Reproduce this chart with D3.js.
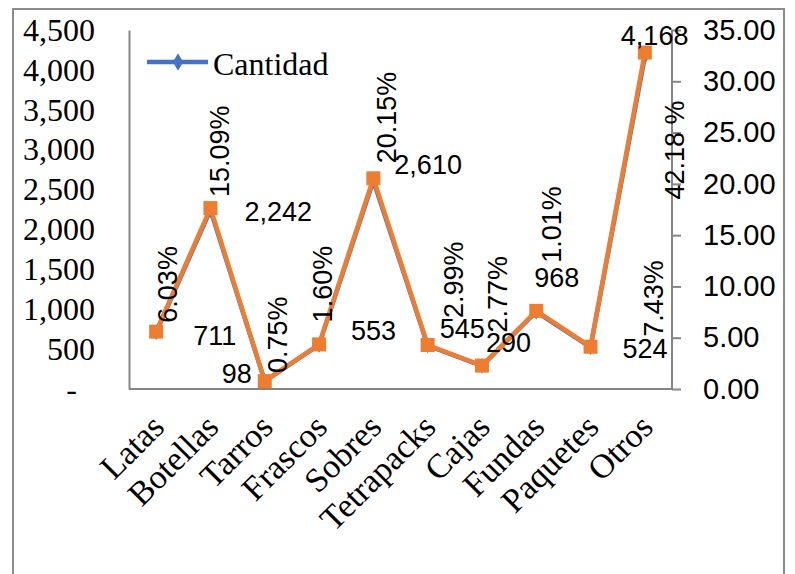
<!DOCTYPE html>
<html>
<head>
	<meta charset="utf-8">
	<title>Cantidad por tipo de envase</title>
	<style type="text/css">
		body {
			margin: 0;
			background: #fff;
		}
		.serif { font-family: "Liberation Serif", "Times New Roman", serif; }
		.sans { font-family: "Liberation Sans", Arial, sans-serif; }
		.axis path, .axis line {
			stroke: #868686;
			stroke-width: 2;
		}
		.axis text { fill: #000; }
	</style>
	<script src="https://d3js.org/d3.v7.min.js"></script>
</head>
<body>
<script type="text/javascript">
	// data
	var categories = ["Latas", "Botellas", "Tarros", "Frascos", "Sobres", "Tetrapacks", "Cajas", "Fundas", "Paquetes", "Otros"];
	var cantidad = [711, 2242, 98, 553, 2610, 545, 290, 968, 524, 4168];
	var porcentaje = [5.59, 17.64, 0.77, 4.35, 20.54, 4.29, 2.28, 7.62, 4.12, 32.80];
	var cantidadLabels = ["711", "2,242", "98", "553", "2,610", "545", "290", "968", "524", "4,168"];
	var pctLabels = ["6.03%", "15.09%", "0.75%", "1.60%", "20.15%", "2.99%", "2.77%", "1.01%", "7.43%", "42.18 %"];
	var leftTicks = [0, 500, 1000, 1500, 2000, 2500, 3000, 3500, 4000, 4500];
	var rightTicks = [0, 5, 10, 15, 20, 25, 30, 35];

	// where the hand-placed labels sit, relative to their point
	var cantOffsets = [[37, 13], [34, 11], [-43, 2], [32, -5], [21, -7], [12, -8], [4, -14], [-2, -25], [32, 11], [-24, -11]];
	var pctOffsets = [[21, -9], [19, -11], [22, -8], [13, -22], [23, -15], [35, -27], [25, -33], [25, -48], [72, -10], [39, 147]];

	var svg = d3.select("body").append("svg")
		.attr("width", 795)
		.attr("height", 574);

	var plot = {left: 129, right: 672, top: 30, bottom: 389};

	svg.append("rect")
		.attr("x", 13).attr("y", 9)
		.attr("width", 771).attr("height", 620)
		.attr("fill", "none")
		.attr("stroke", "#8c8c8c")
		.attr("stroke-width", 2);

	var x = d3.scaleBand().domain(categories).range([plot.left, plot.right]);
	var yL = d3.scaleLinear().domain([0, 4500]).range([plot.bottom, plot.top]);
	var yR = d3.scaleLinear().domain([0, 35]).range([plot.bottom, plot.top]);
	var cx = function(i) { return x(categories[i]) + x.bandwidth() / 2; };

	// left axis
	var gL = svg.append("g")
		.attr("class", "axis serif")
		.attr("transform", "translate(" + plot.left + ",0)")
		.call(d3.axisLeft(yL).tickValues(leftTicks).tickSize(0).tickPadding(34)
			.tickFormat(function(d) { return d === 0 ? "-" : d3.format(",")(d); }));
	gL.selectAll("text").style("font-size", "32px").attr("font-family", null);
	gL.selectAll(".tick").filter(function(d) { return d === 0; }).select("text").attr("x", -52);

	// right axis
	var gR = svg.append("g")
		.attr("class", "axis sans")
		.attr("transform", "translate(" + plot.right + ",0)")
		.call(d3.axisRight(yR).tickValues(rightTicks).tickSize(9).tickPadding(22).tickFormat(d3.format(".2f")));
	gR.selectAll("text").style("font-size", "29px").attr("font-family", null);
	gR.select(".domain").attr("d", "M0," + plot.bottom + "V" + plot.top);

	// bottom axis
	var gB = svg.append("g")
		.attr("class", "axis serif")
		.attr("transform", "translate(0," + plot.bottom + ")")
		.call(d3.axisBottom(x).tickSize(0).tickFormat(""));
	gB.select(".domain").attr("d", "M" + plot.left + ",0H" + plot.right);

	svg.append("g").selectAll("text")
		.data(categories)
		.enter().append("text")
		.attr("class", "serif")
		.style("font-size", "34px")
		.attr("text-anchor", "end")
		.attr("transform", function(d, i) { return "translate(" + (cx(i) + 10) + "," + (plot.bottom + 40) + ") rotate(-45)"; })
		.text(function(d) { return d; });

	// lines
	var lineL = d3.line().x(function(d, i) { return cx(i); }).y(function(d) { return yL(d); });
	var lineR = d3.line().x(function(d, i) { return cx(i); }).y(function(d) { return yR(d); });

	svg.append("path")
		.datum(cantidad)
		.attr("d", lineL)
		.attr("fill", "none")
		.attr("stroke", "#4472C4")
		.attr("stroke-width", 4.5);

	svg.append("g").selectAll("path")
		.data(cantidad)
		.enter().append("path")
		.attr("d", d3.symbol().type(d3.symbolDiamond).size(70))
		.attr("transform", function(d, i) { return "translate(" + cx(i) + "," + yL(d) + ")"; })
		.attr("fill", "#4472C4");

	svg.append("path")
		.datum(porcentaje)
		.attr("d", lineR)
		.attr("fill", "none")
		.attr("stroke", "#ED7D31")
		.attr("stroke-width", 4.5);

	svg.append("g").selectAll("rect")
		.data(porcentaje)
		.enter().append("rect")
		.attr("x", function(d, i) { return cx(i) - 7; })
		.attr("y", function(d) { return yR(d) - 7; })
		.attr("width", 14)
		.attr("height", 14)
		.attr("fill", "#ED7D31");

	// data labels
	svg.append("g").selectAll("text")
		.data(cantidadLabels)
		.enter().append("text")
		.attr("class", "sans")
		.style("font-size", "27px")
		.attr("x", function(d, i) { return cx(i) + cantOffsets[i][0]; })
		.attr("y", function(d, i) { return yL(cantidad[i]) + cantOffsets[i][1]; })
		.text(function(d) { return d; });

	svg.append("g").selectAll("text")
		.data(pctLabels)
		.enter().append("text")
		.attr("class", "sans")
		.style("font-size", "27px")
		.attr("transform", function(d, i) {
			return "translate(" + (cx(i) + pctOffsets[i][0]) + "," + (yR(porcentaje[i]) + pctOffsets[i][1]) + ") rotate(-90)";
		})
		.text(function(d) { return d; });

	// legend
	var legend = svg.append("g");
	legend.append("line")
		.attr("x1", 147).attr("x2", 208)
		.attr("y1", 62).attr("y2", 62)
		.attr("stroke", "#4472C4")
		.attr("stroke-width", 4.5);
	legend.append("path")
		.attr("d", d3.symbol().type(d3.symbolDiamond).size(90))
		.attr("transform", "translate(178,62)")
		.attr("fill", "#4472C4");
	legend.append("text")
		.attr("class", "serif")
		.style("font-size", "32px")
		.attr("x", 213).attr("y", 75)
		.text("Cantidad");
</script>
</body>
</html>
